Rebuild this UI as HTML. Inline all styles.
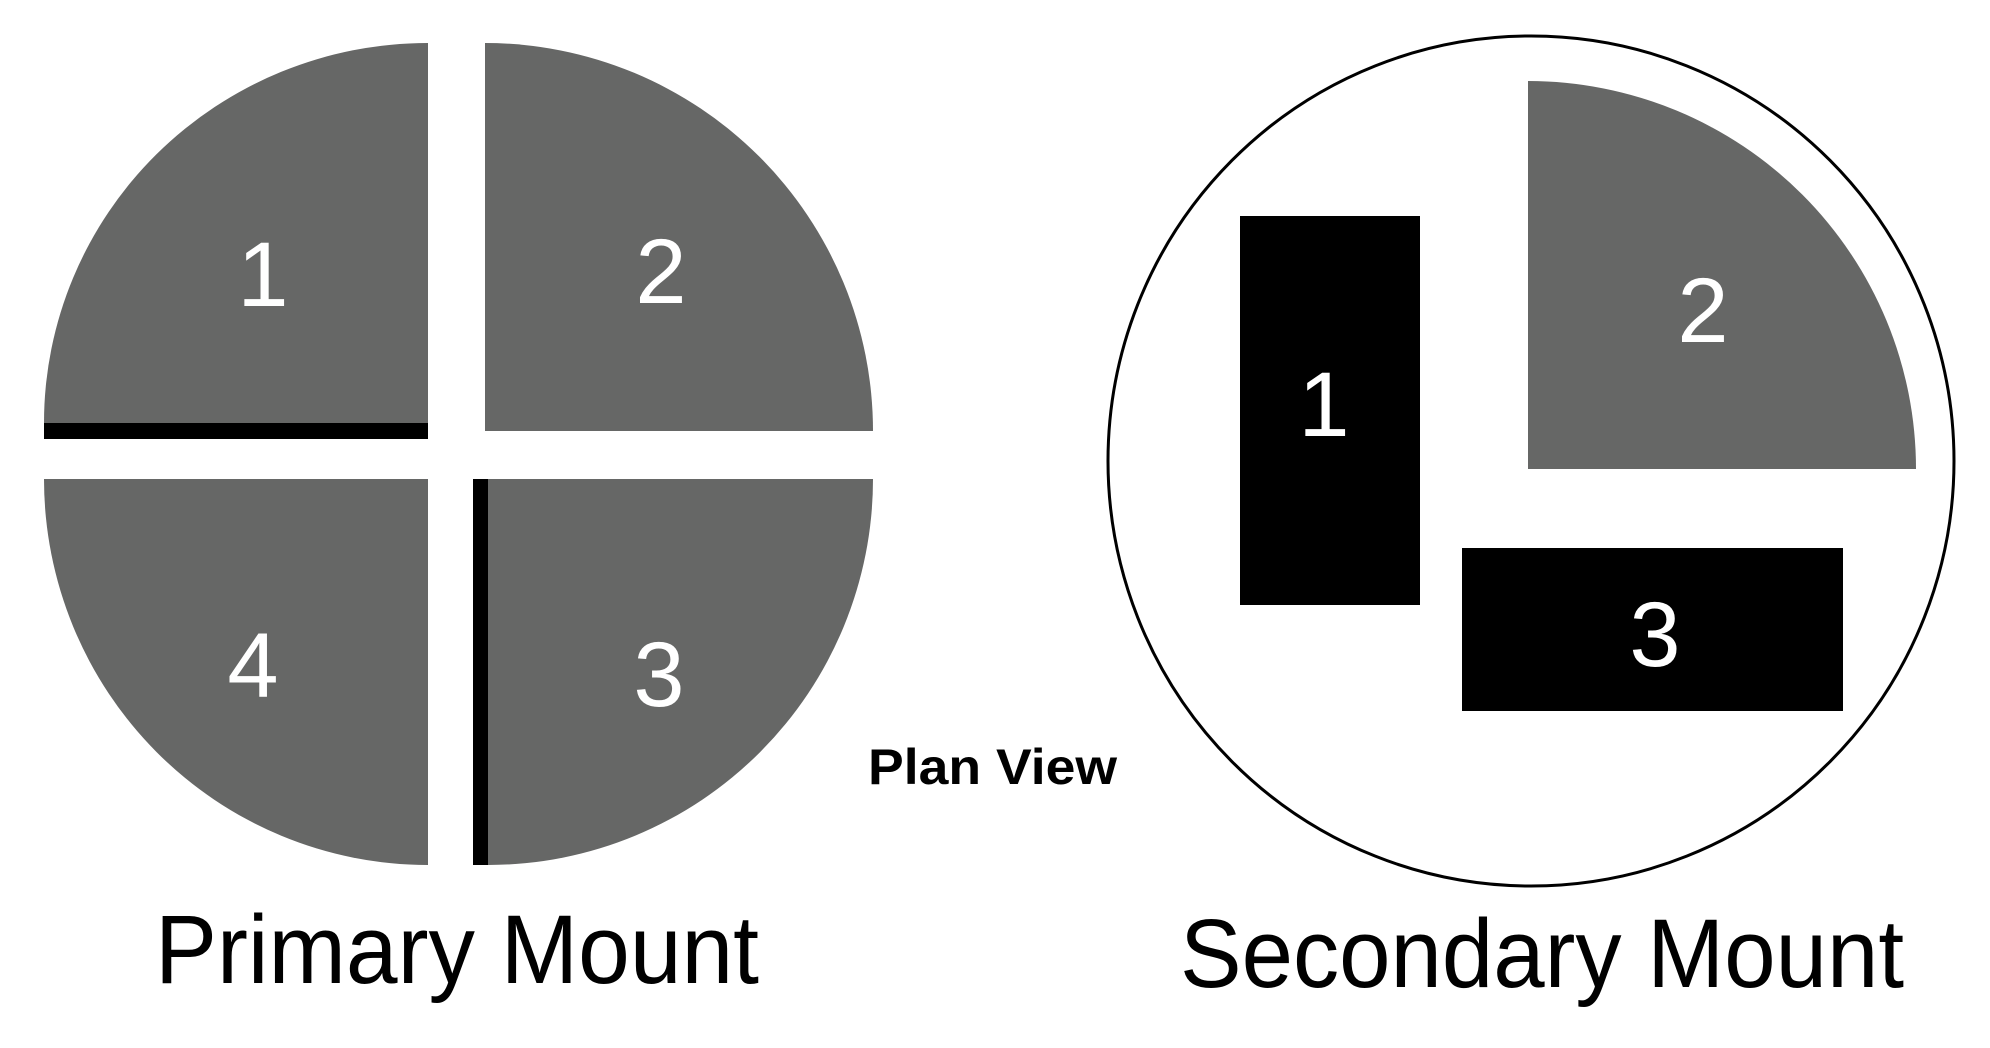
<!DOCTYPE html>
<html><head><meta charset="utf-8"><style>html,body{margin:0;padding:0;background:#fff}svg{display:block}</style></head>
<body>
<svg width="1990" height="1048" viewBox="0 0 1990 1048" xmlns="http://www.w3.org/2000/svg">
<g fill="#666766">
<path d="M428,423 L44,423 A384,380 0 0 1 428,43 Z"/>
<path d="M485,431 L485,43 A388,388 0 0 1 873,431 Z"/>
<path d="M428,479 L428,865 A384,386 0 0 1 44,479 Z"/>
<path d="M488,479 L873,479 A385,386 0 0 1 488,865 Z"/>
</g>
<rect x="44" y="423" width="384" height="16" fill="#000"/>
<rect x="473" y="479" width="15" height="386" fill="#000"/>
<g font-family="Liberation Sans, sans-serif" font-size="92" fill="#fff" text-anchor="middle">
<text x="263" y="306">1</text>
<text x="661" y="303">2</text>
<text x="253" y="697">4</text>
<text x="659" y="706">3</text>
</g>
<ellipse cx="1531" cy="461" rx="423" ry="425" fill="none" stroke="#000" stroke-width="3"/>
<rect x="1240" y="216" width="180" height="389" fill="#000"/>
<path d="M1528,469 L1528,81 A388,388 0 0 1 1916,469 Z" fill="#666766"/>
<rect x="1462" y="548" width="381" height="163" fill="#000"/>
<g font-family="Liberation Sans, sans-serif" font-size="92" fill="#fff" text-anchor="middle">
<text x="1324" y="436">1</text>
<text x="1703" y="342">2</text>
<text x="1655" y="666">3</text>
</g>
<g font-family="Liberation Sans, sans-serif" fill="#000">
<text x="155" y="983" font-size="97" textLength="604" lengthAdjust="spacingAndGlyphs">Primary Mount</text>
<text x="1180" y="987" font-size="97" textLength="724" lengthAdjust="spacingAndGlyphs">Secondary Mount</text>
<text x="868" y="784" font-size="50" font-weight="bold" textLength="249" lengthAdjust="spacingAndGlyphs">Plan View</text>
</g>
</svg>
</body></html>
